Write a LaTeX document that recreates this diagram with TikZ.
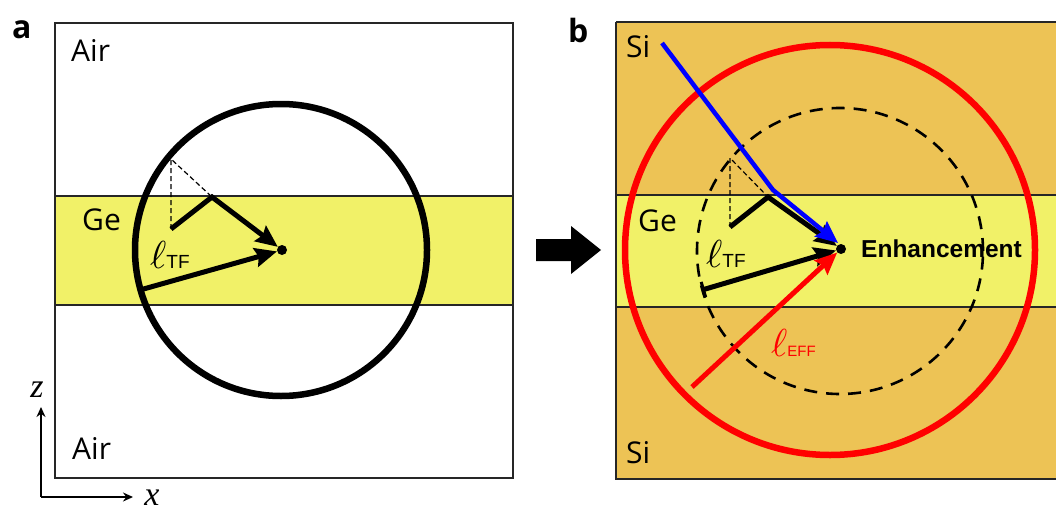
\documentclass[tikz,border=0pt]{standalone}
\usepackage{fontspec}
\setmainfont{Open Sans}
\newfontfamily\arialf{Liberation Sans}
\newfontfamily\serifit{Liberation Serif}
\usetikzlibrary{arrows.meta}
\definecolor{geY}{RGB}{241,241,104}
\definecolor{siO}{RGB}{237,195,85}
\newcommand{\bigell}{\scalebox{3.9}{$\ell$}}
\begin{document}
\begin{tikzpicture}[x=1pt,y=-1pt,
  lbl/.style={font=\fontsize{30}{30}\selectfont, anchor=base west, inner sep=0pt},
  panel/.style={font=\fontsize{32}{32}\selectfont\bfseries, anchor=base west, inner sep=0pt},
  axl/.style={font=\fontsize{34}{34}\selectfont\serifit\itshape, anchor=base, inner sep=0pt},
  ell/.style={anchor=base west, inner sep=0pt},
  frame/.style={draw=black!85, line width=1.6pt},
  bandline/.style={draw=black!85, line width=1.2pt},
  bigarr/.style={line width=5pt, -{Stealth[length=22pt,width=19pt,inset=3pt]}},
  dotn/.style={circle, fill=black, inner sep=0pt, minimum size=10pt},
  thindash/.style={line width=1.2pt, dash pattern=on 5pt off 3pt}
]
\useasboundingbox (0,0) rectangle (1056,511);
% ---------------- panel a ----------------
\fill[white] (55,23) rectangle (513,478);
\fill[geY] (55,196) rectangle (513,305);
\draw[bandline] (55,196) -- (513,196) (55,305) -- (513,305);
\draw[frame] (55,23) rectangle (513,478);
\draw[line width=6.5pt] (281,250) circle[radius=146pt];
\node[dotn] (dotA) at (282,250) {};
\coordinate (za1) at (171,229);
\coordinate (za2) at (212,197);
\coordinate (zat) at (171,159);
\coordinate (ea) at (140,290);
\draw[thindash] (za1) -- (zat) -- (za2);
\draw[bigarr] (za1) -- (za2) -- (dotA);
\draw[bigarr] (ea) -- (dotA);
\node[lbl] (airT) at (71,62) {Air};
\node[lbl] (airB) at (72,459) {Air};
\node[lbl] (geA) at (82,230) {Ge};
\node[ell] (ltfA) at (150,268) {\bigell\fontsize{19}{19}\selectfont\arialf TF};
\node[panel] (la) at (12,39) {a};
% axes
\coordinate (ax0) at (41,497);
\coordinate (axz) at (41,407);
\coordinate (axx) at (133,497);
\draw[line width=1.8pt, -{Stealth[length=10pt,width=9pt]}] (ax0) -- (axz);
\draw[line width=1.8pt, -{Stealth[length=10pt,width=9pt]}] (ax0) -- (axx);
\node[axl] (zl) at (37,397) {z};
\node[axl] (xl) at (152,505) {x};
% big arrow
\fill (536,239) -- (571,239) -- (571,226) -- (601,250) -- (571,274) -- (571,261) -- (536,261) -- cycle;
% ---------------- panel b ----------------
\begin{scope}
\clip (0,0) rectangle (1056,511);
\fill[siO] (616,22) rectangle (1060,479);
\fill[geY] (616,195) rectangle (1060,307);
\draw[bandline] (616,195) -- (1060,195) (616,307) -- (1060,307);
\draw[frame] (616,22) -- (1060,22) (616,22) -- (616,479) -- (1060,479);
\draw[red, line width=6.5pt] (830,250) circle[radius=205pt];
\draw[line width=2.6pt, dash pattern=on 13pt off 9pt] (840,251) circle[radius=143pt];
\end{scope}
\node[dotn] (dotB) at (841,249) {};
\coordinate (zb1) at (730,227);
\coordinate (zb2) at (768,197);
\coordinate (zbt) at (730,158);
\coordinate (eb) at (702,290);
\coordinate (rb) at (692,387);
\coordinate (bl1) at (662,43);
\coordinate (bl2) at (773,190);
\coordinate (bl3) at (838,243);
\draw[thindash] (zb1) -- (zbt) -- (zb2);
\draw[bigarr] (zb1) -- (zb2) -- (dotB);
\draw[line width=5pt, {Bar[width=16pt,line width=3pt]}-{Stealth[length=22pt,width=19pt,inset=3pt]}] (eb) -- (dotB);
\draw[red, line width=5pt, -{Stealth[length=22pt,width=19pt,inset=3pt]}] (rb) -- (dotB);
\draw[blue, line width=4.5pt, -{Stealth[length=22pt,width=19pt,inset=3pt]}] (bl1) -- (bl2) -- (bl3);
\node[lbl] (siT) at (626,57) {Si};
\node[lbl] (siB) at (626,463) {Si};
\node[lbl] (geB) at (638,231) {Ge};
\node[ell] (ltfB) at (706,267) {\bigell\fontsize{19}{19}\selectfont\arialf TF};
\node[ell, text=red] (leff) at (771,356) {\bigell\fontsize{15}{15}\selectfont\arialf EFF};
\node[anchor=base west, inner sep=0pt, font=\fontsize{24.5}{24.5}\selectfont\arialf\bfseries] (enh) at (861,257) {Enhancement};
\node[panel] (lb) at (568,42) {b};
\end{tikzpicture}
\end{document}
